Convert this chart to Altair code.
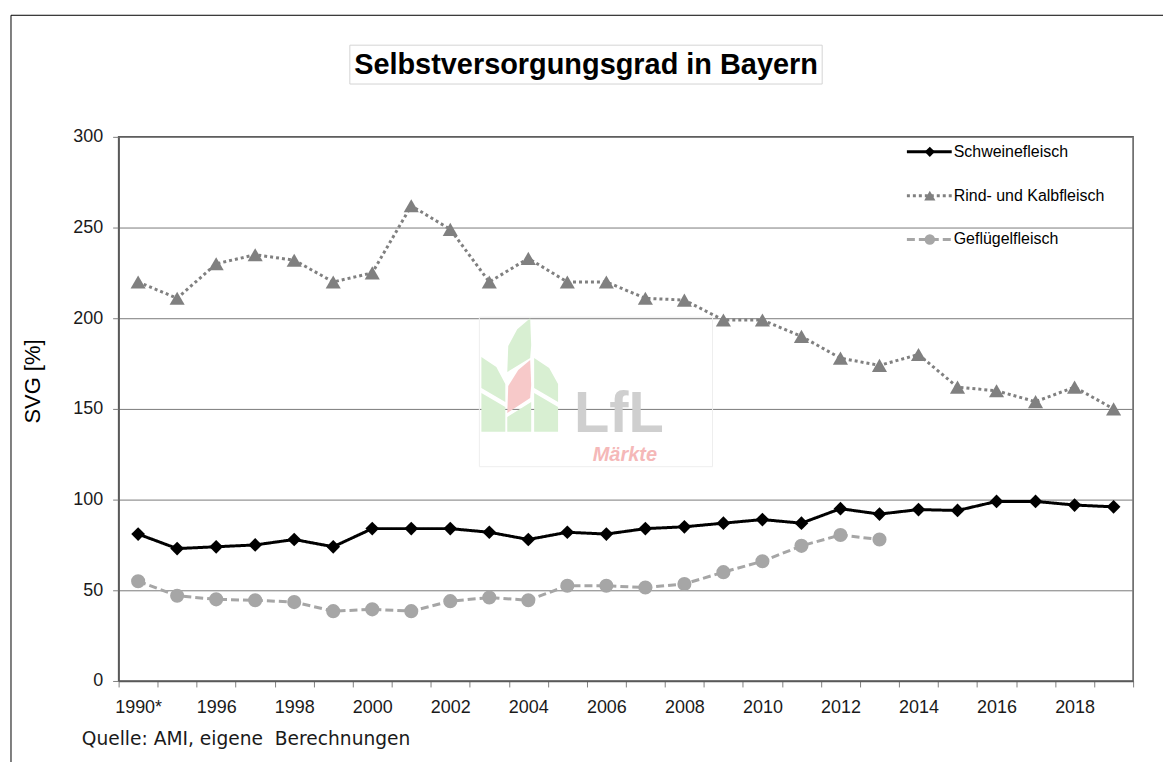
import json
import altair as alt
import pandas as pd

# ---------------- data ----------------
years = ["1990*", "1995"] + [str(y) for y in range(1996, 2020)]
schwein = [81, 73, 74, 75, 78, 74, 84, 84, 84, 82, 78, 82, 81, 84, 85, 87, 89, 87,
           95, 92, 94.5, 94, 99, 99, 97, 96]
rind = [220, 211, 230, 235, 232, 220, 225, 262, 249, 220, 233, 220, 220, 211, 210,
        199, 199, 190, 178, 174, 180, 162, 160, 154, 162, 150]
gefluegel = [55, 47, 45, 44.5, 43.5, 38.5, 39.5, 38.5, 44, 46, 44.5, 52.5, 52.5,
             51.5, 53.5, 60, 66, 74.5, 80.5, 78] + [None] * 6
series_names = ["Schweinefleisch", "Rind- und Kalbfleisch", "Geflügelfleisch"]
y_ticks = [0, 50, 100, 150, 200, 250, 300]
labeled_years = years[::2]

df = pd.DataFrame({
    "Jahr": years,
    "Schweinefleisch": schwein,
    "Rind- und Kalbfleisch": rind,
    "Geflügelfleisch": gefluegel,
})

# ---------------- styles ----------------
W, H = 1018, 546
FONT = "Liberation Sans"
styles = {
    "Schweinefleisch": dict(color="#000000", dash=[1, 0], shape="diamond", size=190, ly=15),
    "Rind- und Kalbfleisch": dict(color="#808080", dash=[3, 3], shape="triangle-up", size=230, ly=59),
    "Geflügelfleisch": dict(color="#a6a6a6", dash=[8, 4], shape="circle", size=200, ly=103),
}

x_enc = alt.X(
    "Jahr:N", sort=years,
    scale=alt.Scale(type="band", paddingInner=0, paddingOuter=0),
    axis=alt.Axis(
        title=None, grid=False, labelAngle=0, labelOverlap=False,
        labelExpr=f"indexof({json.dumps(labeled_years)}, datum.value) >= 0 ? datum.label : ''",
        tickBand="extent", tickSize=6, tickColor="#808080", tickWidth=1,
        domainColor="#595959", domainWidth=1.5,
        labelFont=FONT, labelFontSize=18, labelColor="#1a1a1a", labelPadding=12,
    ),
)


def y_enc(field):
    return alt.Y(
        f"{field}:Q",
        scale=alt.Scale(domain=[0, 300], nice=False, zero=True),
        axis=alt.Axis(
            values=y_ticks, title="SVG [%]", grid=True, gridColor="#7a7a7a", gridWidth=1,
            tickSize=6, tickColor="#808080", domainColor="#595959", domainWidth=1.5,
            labelFont=FONT, labelFontSize=18, labelColor="#1a1a1a", labelPadding=10,
            titleFont=FONT, titleFontSize=22, titleFontWeight="normal", titleColor="#000000",
            titleX=-86, titleY=245, titleAngle=270, titleAlign="center", titleBaseline="middle",
        ),
    )


one = pd.DataFrame({"k": [0]})
layers = []

# outer frame
layers.append(alt.Chart(one).mark_rect(fill="white", fillOpacity=0, stroke="#000000", strokeWidth=1).encode(
    x=alt.value(-108), x2=alt.value(1100), y=alt.value(-122), y2=alt.value(700)))

# title box + title
layers.append(alt.Chart(one).mark_rect(fill="white", stroke="#d4d4d4", strokeWidth=1).encode(
    x=alt.value(232), x2=alt.value(706), y=alt.value(-92), y2=alt.value(-53)))
layers.append(alt.Chart(one).mark_text(
    text="Selbstversorgungsgrad in Bayern", font=FONT, fontSize=29, fontWeight="bold",
    color="#000000", align="center", baseline="middle").encode(
    x=alt.value(469), y=alt.value(-72)))

# watermark (LfL logo, faint)
def logo_path(pts, cx=521.5, cy=375.0, unit=57.0):
    s = "M" + " L".join(f"{(x - cx) / unit:.3f},{(y - cy) / unit:.3f}" for x, y in pts) + " Z"
    return s

green_polys = [
    [(509, 372), (510, 346), (519, 329), (532, 318), (533, 345), (532, 358)],
    [(483, 357), (498, 367), (507, 384), (507, 402), (483, 388)],
    [(483, 393), (507, 407), (507, 432), (483, 432)],
    [(536, 358), (551, 368), (560, 384), (560, 402), (536, 388)],
    [(536, 393), (560, 407), (560, 432), (536, 432)],
    [(509, 417), (533, 402), (533, 432), (509, 432)],
]
pink_poly = [(509, 413), (510, 386), (520, 370), (532, 360), (533, 385), (532, 398)]
green_path = " ".join(logo_path(p) for p in green_polys)
pink_path = logo_path(pink_poly)
layers.append(alt.Chart(one).mark_rect(fill="white", fillOpacity=0, stroke="#eeeeee", strokeWidth=1).encode(
    x=alt.value(362), x2=alt.value(596), y=alt.value(181), y2=alt.value(331)))
layers.append(alt.Chart(one).mark_point(shape=green_path, size=114 ** 2, filled=True,
                                        color="#d8efd2", opacity=1).encode(
    x=alt.value(402.5), y=alt.value(239)))
layers.append(alt.Chart(one).mark_point(shape=pink_path, size=114 ** 2, filled=True,
                                        color="#f7c9c9", opacity=1).encode(
    x=alt.value(402.5), y=alt.value(239)))
layers.append(alt.Chart(one).mark_text(
    text="LfL", font=FONT, fontSize=58, fontWeight="bold", color="#cfcfcf",
    align="center", baseline="alphabetic").encode(x=alt.value(502), y=alt.value(296)))
layers.append(alt.Chart(one).mark_text(
    text="Märkte", font=FONT, fontSize=20, fontWeight="bold", fontStyle="italic", color="#f5b8b8",
    align="center", baseline="middle").encode(x=alt.value(508), y=alt.value(319)))

# data series
for name in series_names:
    st = styles[name]
    base = alt.Chart(df).encode(x=x_enc, y=y_enc(name))
    layers.append(base.mark_line(color=st["color"], strokeWidth=3, strokeDash=st["dash"]))
    layers.append(base.mark_point(shape=st["shape"], size=st["size"], filled=True,
                                  color=st["color"], opacity=1))

# manual legend
for name in series_names:
    st = styles[name]
    layers.append(alt.Chart(one).mark_rule(color=st["color"], strokeWidth=3, strokeDash=st["dash"]).encode(
        x=alt.value(791), x2=alt.value(836), y=alt.value(st["ly"])))
    layers.append(alt.Chart(one).mark_point(shape=st["shape"], size=st["size"] * 0.55, filled=True,
                                            color=st["color"], opacity=1).encode(
        x=alt.value(814), y=alt.value(st["ly"])))
    layers.append(alt.Chart(one).mark_text(text=name, font=FONT, fontSize=16, color="#000000",
                                           align="left", baseline="middle").encode(
        x=alt.value(838), y=alt.value(st["ly"])))

# source note
layers.append(alt.Chart(one).mark_text(
    text="Quelle: AMI, eigene\u00a0\u00a0Berechnungen", font="DejaVu Sans", fontSize=18.7, color="#1a1a1a",
    align="left", baseline="middle").encode(x=alt.value(-37), y=alt.value(604)))

chart = alt.layer(*layers).properties(
    width=W, height=H,
    autosize=alt.AutoSizeParams(type="none"),
    padding={"left": 111, "top": 128, "right": 30, "bottom": 80},
).configure_view(stroke="#595959", strokeWidth=1.5)

chart.save("out.html", embed_options={"renderer": "svg", "actions": False})
